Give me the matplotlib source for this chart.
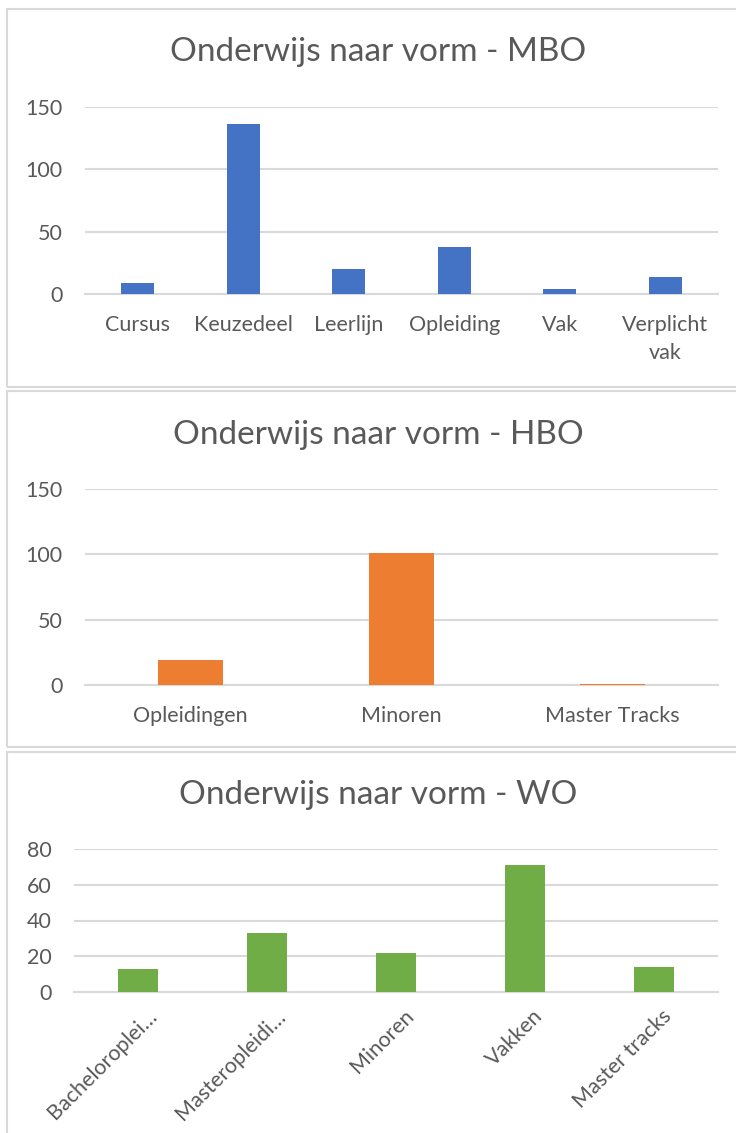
import matplotlib.pyplot as plt
from matplotlib.patches import Rectangle
from matplotlib.transforms import ScaledTranslation

# data
mbo_labels = ['Cursus', 'Keuzedeel', 'Leerlijn', 'Opleiding', 'Vak', 'Verplicht\nvak']
mbo_values = [9, 136, 20, 38, 4, 14]
hbo_labels = ['Opleidingen', 'Minoren', 'Master Tracks']
hbo_values = [19, 101, 0.4]
wo_labels = ['Bacheloroplei…', 'Masteropleidi…', 'Minoren', 'Vakken', 'Master tracks']
wo_values = [13, 33, 22, 71, 14]

W, H = 736, 1133
TXT = '#595959'
GRID = '#D9D9D9'
plt.rcParams['font.family'] = ['Lato', 'DejaVu Sans']


def box(x0, y0, x1, y1):
    return [x0 / W, 1 - y1 / H, (x1 - x0) / W, (y1 - y0) / H]


def bar_chart(fig, rect, labels, values, color, ymax, step, title, title_y, rot=False):
    ax = fig.add_axes(box(*rect))
    ax.bar(range(len(values)), values, width=0.31, color=color, zorder=3)
    ax.set_xlim(-0.5, len(values) - 0.5)
    ax.set_ylim(0, ymax)
    ax.set_yticks(range(0, ymax + 1, step))
    ax.yaxis.grid(True, color=GRID, linewidth=1.5, zorder=0)
    for s in ['top', 'right', 'left']:
        ax.spines[s].set_visible(False)
    ax.spines['bottom'].set_color(GRID)
    ax.spines['bottom'].set_linewidth(1.5)
    ax.tick_params(length=0, colors=TXT, labelsize=15.5)
    ax.tick_params(axis='y', pad=16)
    ax.set_xticks(range(len(values)))
    if rot:
        # rotated labels drawn by hand so they can be shifted like Excel does
        ax.set_xticklabels([])
        off = ScaledTranslation(0.15, -0.21, fig.dpi_scale_trans)
        for i, lab in enumerate(labels):
            ax.text(i, 0, lab, transform=ax.get_xaxis_transform() + off,
                    rotation=45, ha='right', va='center', rotation_mode='anchor',
                    fontsize=15.5, color=TXT)
    else:
        ax.set_xticklabels(labels, linespacing=1.5)
        ax.tick_params(axis='x', pad=15)
    fig.text(378 / W, 1 - title_y / H, title, ha='center', va='center', fontsize=24, color=TXT)
    return ax


fig = plt.figure(figsize=(W / 100, H / 100), dpi=100)

for y0, y1 in [(9, 387), (391, 747), (752, 1140)]:
    fig.patches.append(Rectangle((7 / W, 1 - y1 / H), 740 / W, (y1 - y0) / H,
                                 transform=fig.transFigure, fill=False,
                                 edgecolor=GRID, linewidth=1.5))

bar_chart(fig, (85, 107, 718, 294), mbo_labels, mbo_values, '#4472C4', 150, 50,
          'Onderwijs naar vorm - MBO', 52)
bar_chart(fig, (85, 489, 718, 685), hbo_labels, hbo_values, '#ED7D31', 150, 50,
          'Onderwijs naar vorm - HBO', 435)
bar_chart(fig, (74, 849, 718, 992), wo_labels, wo_values, '#70AD47', 80, 20,
          'Onderwijs naar vorm - WO', 795, rot=True)

fig.savefig('out.png', dpi=100)
